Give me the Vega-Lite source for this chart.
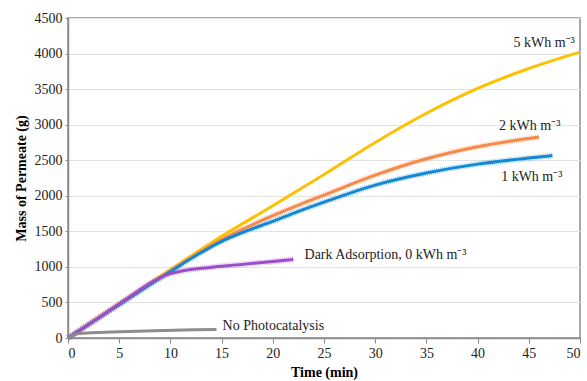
{
  "$schema": "https://vega.github.io/schema/vega-lite/v6.json",
  "autosize": {"type": "none"},
  "width": 512,
  "height": 320,
  "padding": {"left": 68, "top": 18, "right": 7, "bottom": 43},
  "background": "white",
  "config": {
    "font": "Liberation Serif",
    "view": {"stroke": "#8c8c8c", "strokeWidth": 1.5}
  },
  "datasets": {
    "lines": [
      {"s": "5", "t": 0, "v": 0}, {"s": "5", "t": 5, "v": 480}, {"s": "5", "t": 10, "v": 960}, {"s": "5", "t": 15, "v": 1430}, {"s": "5", "t": 20, "v": 1860}, {"s": "5", "t": 25, "v": 2300}, {"s": "5", "t": 30, "v": 2750}, {"s": "5", "t": 35, "v": 3160}, {"s": "5", "t": 40, "v": 3510}, {"s": "5", "t": 45, "v": 3790}, {"s": "5", "t": 50, "v": 4020},
      {"s": "2", "t": 0, "v": 0}, {"s": "2", "t": 5, "v": 475}, {"s": "2", "t": 10, "v": 945}, {"s": "2", "t": 12.5, "v": 1175}, {"s": "2", "t": 15, "v": 1385}, {"s": "2", "t": 17.5, "v": 1560}, {"s": "2", "t": 20, "v": 1720}, {"s": "2", "t": 22.5, "v": 1870}, {"s": "2", "t": 25, "v": 2010}, {"s": "2", "t": 30, "v": 2290}, {"s": "2", "t": 35, "v": 2520}, {"s": "2", "t": 40, "v": 2690}, {"s": "2", "t": 46, "v": 2825},
      {"s": "1", "t": 0, "v": 0}, {"s": "1", "t": 5, "v": 470}, {"s": "1", "t": 10, "v": 935}, {"s": "1", "t": 12.5, "v": 1160}, {"s": "1", "t": 15, "v": 1360}, {"s": "1", "t": 17.5, "v": 1510}, {"s": "1", "t": 20, "v": 1640}, {"s": "1", "t": 22.5, "v": 1780}, {"s": "1", "t": 25, "v": 1910}, {"s": "1", "t": 30, "v": 2150}, {"s": "1", "t": 35, "v": 2320}, {"s": "1", "t": 40, "v": 2445}, {"s": "1", "t": 45, "v": 2530}, {"s": "1", "t": 47.3, "v": 2565},
      {"s": "0", "t": 0, "v": 0}, {"s": "0", "t": 3, "v": 285}, {"s": "0", "t": 6, "v": 575}, {"s": "0", "t": 8, "v": 770}, {"s": "0", "t": 9, "v": 850}, {"s": "0", "t": 10, "v": 905}, {"s": "0", "t": 11, "v": 940}, {"s": "0", "t": 12, "v": 962}, {"s": "0", "t": 13, "v": 980}, {"s": "0", "t": 15, "v": 1010}, {"s": "0", "t": 17, "v": 1035}, {"s": "0", "t": 20, "v": 1075}, {"s": "0", "t": 22, "v": 1105},
      {"s": "N", "t": 0, "v": 0}, {"s": "N", "t": 1.1, "v": 65}, {"s": "N", "t": 14.5, "v": 120}
    ],
    "labels": [
      {"label": "5 kWh m⁻³", "t": 43.5, "v": 4150},
      {"label": "2 kWh m⁻³", "t": 42.1, "v": 2980},
      {"label": "1 kWh m⁻³", "t": 42.3, "v": 2260},
      {"label": "Dark Adsorption, 0 kWh m⁻³", "t": 23.1, "v": 1167},
      {"label": "No Photocatalysis", "t": 15.1, "v": 170}
    ]
  },
  "encoding": {
    "x": {
      "field": "t", "type": "quantitative",
      "scale": {"domain": [0, 50], "nice": false},
      "axis": {"values": [0, 5, 10, 15, 20, 25, 30, 35, 40, 45, 50], "format": "d", "labelOverlap": false, "title": "Time (min)", "titleFont": "Liberation Serif", "titleFontSize": 14, "titleFontWeight": "bold", "titleColor": "#000", "titlePadding": 5, "labelFont": "Liberation Serif", "labelFontSize": 14, "labelColor": "#222", "labelPadding": 3, "domainColor": "#8c8c8c", "domainWidth": 1.5, "tickColor": "#8c8c8c", "tickSize": 5, "grid": false}
    },
    "y": {
      "field": "v", "type": "quantitative",
      "scale": {"domain": [0, 4500], "nice": false},
      "axis": {"values": [0, 500, 1000, 1500, 2000, 2500, 3000, 3500, 4000, 4500], "format": "d", "labelOverlap": false, "title": "Mass of Permeate (g)", "titleFont": "Liberation Serif", "titleFontSize": 14, "titleFontWeight": "bold", "titleColor": "#000", "titlePadding": 6, "labelFont": "Liberation Serif", "labelFontSize": 14, "labelColor": "#222", "labelPadding": 3, "domainColor": "#8c8c8c", "domainWidth": 1.5, "tickColor": "#8c8c8c", "tickSize": 3, "gridColor": "#e3e3e3", "gridWidth": 1}
    }
  },
  "layer": [
    {
      "data": {"name": "lines"},
      "transform": [{"filter": "datum.s == '0' || datum.s == '1' || datum.s == '2'"}],
      "mark": {"type": "line", "strokeWidth": 6, "opacity": 0.4, "strokeDash": [1, 1], "interpolate": "monotone"},
      "encoding": {
        "color": {"field": "s", "type": "nominal", "scale": {"domain": ["5", "2", "1", "0", "N"], "range": ["#FFC000", "#F7894A", "#1588D4", "#9B4DCA", "#8C8C8C"]}, "legend": null}
      }
    },
    {
      "data": {"name": "lines"},
      "mark": {"type": "line", "strokeWidth": 3, "interpolate": "monotone"},
      "encoding": {
        "color": {"field": "s", "type": "nominal", "scale": {"domain": ["5", "2", "1", "0", "N"], "range": ["#FFC000", "#F7894A", "#1588D4", "#9B4DCA", "#8C8C8C"]}, "legend": null}
      }
    },
    {
      "data": {"name": "labels"},
      "mark": {"type": "text", "align": "left", "baseline": "middle", "font": "Liberation Serif", "fontSize": 14, "color": "#222"},
      "encoding": {
        "text": {"field": "label"}
      }
    }
  ]
}
